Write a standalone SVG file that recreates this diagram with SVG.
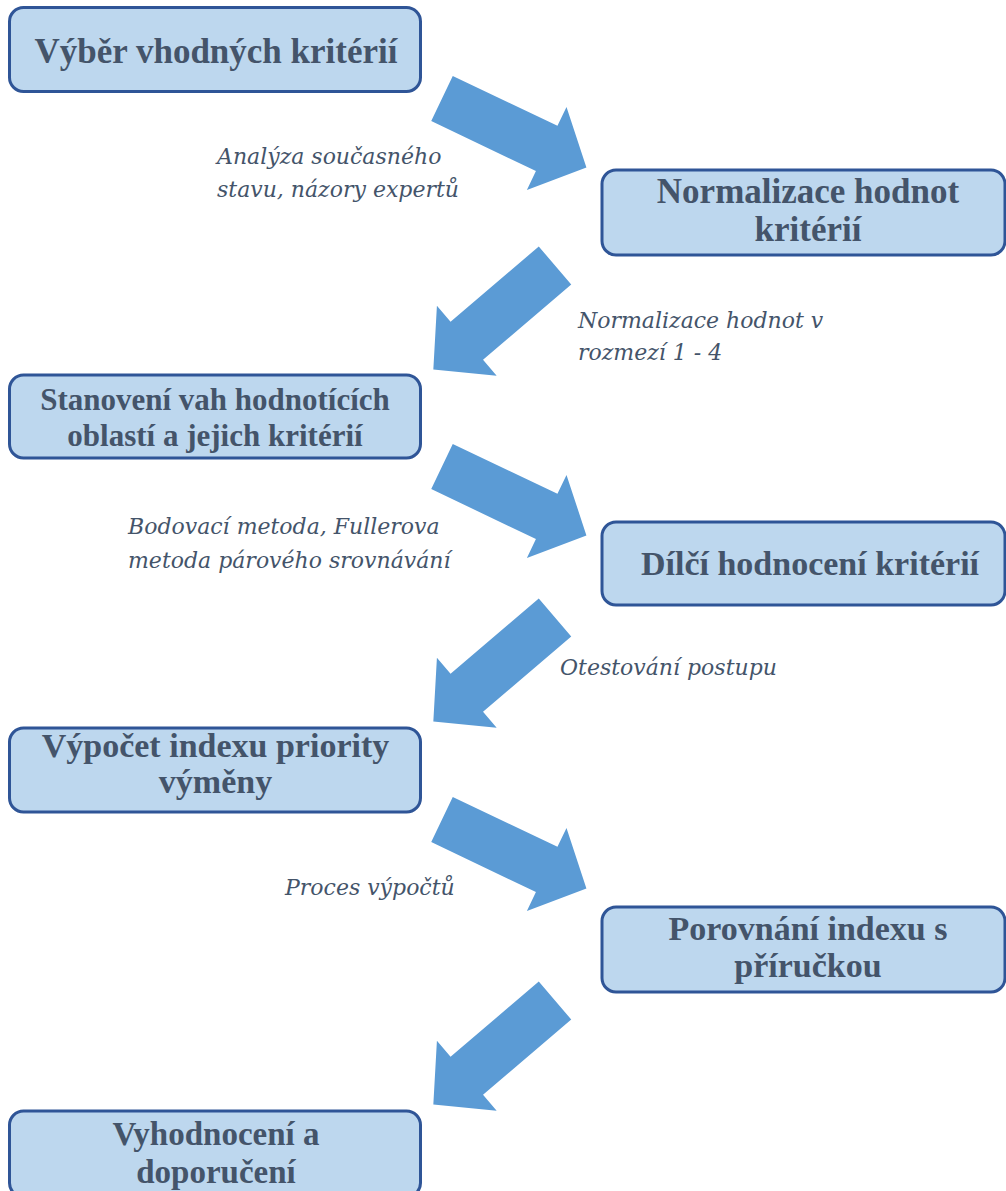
<svg xmlns="http://www.w3.org/2000/svg" xmlns:xlink="http://www.w3.org/1999/xlink" width="1006" height="1191" viewBox="0 0 1006 1191">
  <style>
    .box { fill: #BDD7EE; stroke: #2F5597; stroke-width: 3; }
    .title { font-family: "Liberation Serif", "Times New Roman", serif; font-weight: bold; fill: #44546A; text-anchor: middle; }
    .note { font-family: "DejaVu Serif", "Liberation Serif", serif; font-style: italic; font-size: 22px; fill: #44546A; }
    .arrow { fill: #5B9BD5; }
  </style>
  <defs>
    <!-- block arrow pointing along +x, tail centre at origin -->
    <polygon id="blockArrow" points="0,-25 116,-25 116,-46 160,0 116,46 116,25 0,25"/>
  </defs>
  <rect width="1006" height="1191" fill="#FFFFFF"/>

  <g id="connectors" class="arrow">
    <use xlink:href="#blockArrow" transform="translate(442,98.5) rotate(25.5)"/>
    <use xlink:href="#blockArrow" transform="translate(555,265.5) rotate(139.5)"/>
    <use xlink:href="#blockArrow" transform="translate(442,466.5) rotate(25.5)"/>
    <use xlink:href="#blockArrow" transform="translate(555,617.5) rotate(139.5)"/>
    <use xlink:href="#blockArrow" transform="translate(442,819.5) rotate(25.5)"/>
    <use xlink:href="#blockArrow" transform="translate(555,1000.5) rotate(139.5)"/>
  </g>

  <g id="labels">
    <text class="note" x="217" y="164">Analýza současného</text>
    <text class="note" x="217" y="197">stavu, názory expertů</text>
    <text class="note" x="578" y="328">Normalizace hodnot v</text>
    <text class="note" x="578" y="360">rozmezí 1 - 4</text>
    <text class="note" x="128" y="534">Bodovací metoda, Fullerova</text>
    <text class="note" x="128" y="568">metoda párového srovnávání</text>
    <text class="note" x="560" y="675">Otestování postupu</text>
    <text class="note" x="285" y="895">Proces výpočtů</text>
  </g>

  <g id="node-vyber">
    <rect class="box" x="9.5" y="7.5" width="411" height="84" rx="14"/>
    <text class="title" x="216" y="63" font-size="35">Výběr vhodných kritérií</text>
  </g>
  <g id="node-normalizace">
    <rect class="box" x="602" y="170" width="403" height="85" rx="14"/>
    <text class="title" x="808" y="203" font-size="35">Normalizace hodnot</text>
    <text class="title" x="808" y="241" font-size="35">kritérií</text>
  </g>
  <g id="node-vahy">
    <rect class="box" x="9.5" y="375" width="411" height="83" rx="14"/>
    <text class="title" x="215" y="410" font-size="31">Stanovení vah hodnotících</text>
    <text class="title" x="215" y="446" font-size="31">oblastí a jejich kritérií</text>
  </g>
  <g id="node-dilci">
    <rect class="box" x="602" y="522" width="403" height="83" rx="14"/>
    <text class="title" x="810" y="575" font-size="34">Dílčí hodnocení kritérií</text>
  </g>
  <g id="node-index">
    <rect class="box" x="9.5" y="728" width="411" height="84" rx="14"/>
    <text class="title" x="215.5" y="757" font-size="34">Výpočet indexu priority</text>
    <text class="title" x="215.5" y="793" font-size="34">výměny</text>
  </g>
  <g id="node-porovnani">
    <rect class="box" x="602" y="907" width="403" height="85" rx="14"/>
    <text class="title" x="808" y="940" font-size="34">Porovnání indexu s</text>
    <text class="title" x="808" y="977" font-size="34">příručkou</text>
  </g>
  <g id="node-vyhodnoceni">
    <rect class="box" x="9.5" y="1111" width="411" height="86" rx="14"/>
    <text class="title" x="216" y="1145" font-size="33">Vyhodnocení a</text>
    <text class="title" x="216" y="1183" font-size="33">doporučení</text>
  </g>
</svg>
